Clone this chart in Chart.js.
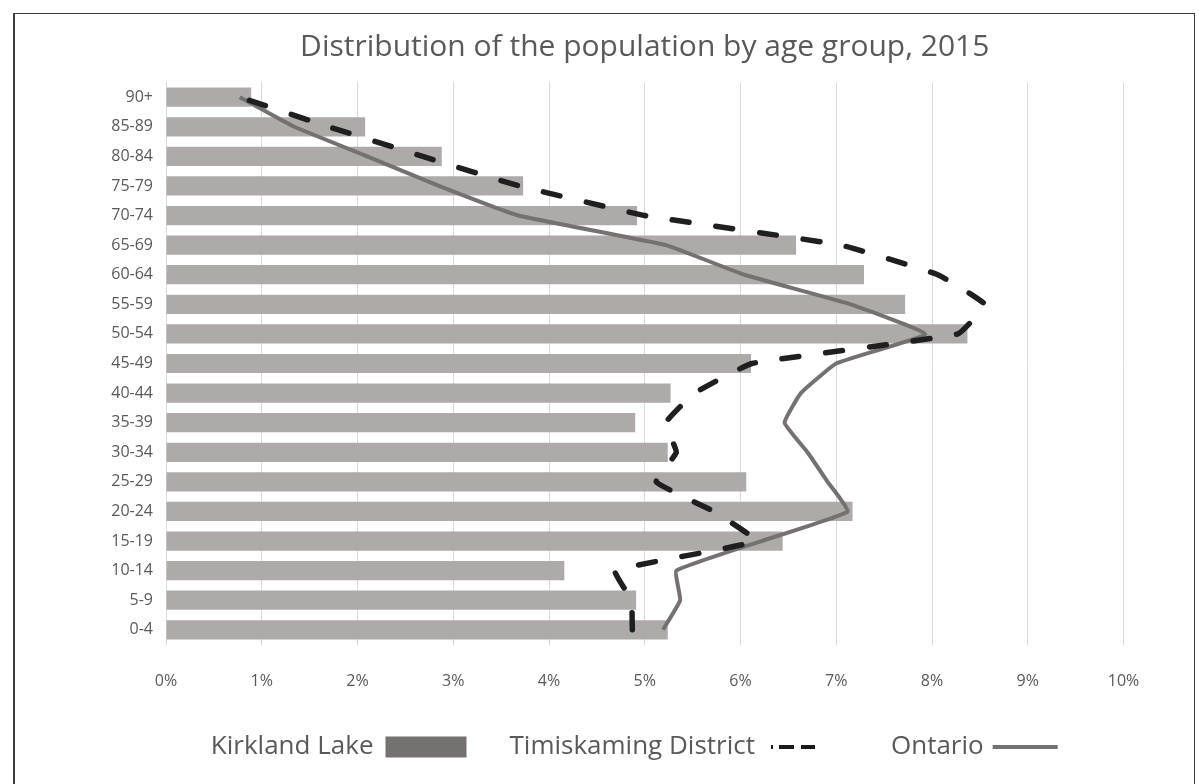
<!DOCTYPE html>
<html>
<head>
<meta charset="UTF-8">
<title>Distribution of the population by age group, 2015</title>
<script src="https://cdn.jsdelivr.net/npm/chart.js@4.4.1/dist/chart.umd.min.js"></script>
<style>
  html, body { margin: 0; padding: 0; background: #ffffff; }
  #wrap { position: relative; width: 1199px; height: 784px; overflow: hidden; }
  #frame {
    position: absolute; left: 13px; top: 13px; width: 1182px; height: 820px;
    box-sizing: border-box; border: 1px solid #3c3c3c; border-left-width: 2px;
  }
  canvas { position: absolute; left: 0; top: 0; }
</style>
</head>
<body>
<div id="wrap">
  <div id="frame"></div>
  <canvas id="chart" width="1199" height="784"></canvas>
</div>
<script>
// Age groups, bottom to top
const ageGroups = ['0-4', '5-9', '10-14', '15-19', '20-24', '25-29', '30-34', '35-39', '40-44',
  '45-49', '50-54', '55-59', '60-64', '65-69', '70-74', '75-79', '80-84', '85-89', '90+'];

// Share of population (%)
const kirklandLake = [5.24, 4.91, 4.16, 6.44, 7.17, 6.06, 5.24, 4.90, 5.27,
  6.11, 8.37, 7.72, 7.29, 6.58, 4.92, 3.73, 2.88, 2.08, 0.89];
const timiskaming = [4.87, 4.86, 4.69, 6.16, 5.72, 5.12, 5.33, 5.22, 5.52,
  6.12, 8.27, 8.55, 8.06, 7.05, 5.00, 3.69, 2.68, 1.70, 0.77];
const ontario = [5.19, 5.37, 5.33, 6.22, 7.12, 6.91, 6.70, 6.46, 6.63,
  7.00, 7.93, 7.15, 6.04, 5.22, 3.68, 2.85, 2.10, 1.34, 0.77];

const xTicks = [0, 1, 2, 3, 4, 5, 6, 7, 8, 9, 10];

const TEXT = '#595959';
const FONT = "'Open Sans', sans-serif";

// Legend symbols sit to the right of the text (Excel style).
// Image is wider than the legend box (82px); x0 = where the symbol starts in it.
function swatch(x0, draw) {
  const c = document.createElement('canvas');
  c.width = 200;
  c.height = 28;
  const g = c.getContext('2d');
  g.translate(x0, 14);
  draw(g);
  return c;
}
const swatches = [
  swatch(58, g => { g.fillStyle = '#757171'; g.fillRect(0, -10.5, 81, 21); }),
  swatch(62, g => {
    g.fillStyle = '#1a1a1a';
    g.fillRect(0, -2, 2, 4);
    g.fillRect(8, -2, 15, 4);
    g.fillRect(30, -2, 14, 4);
  }),
  swatch(55, g => { g.fillStyle = '#767171'; g.fillRect(0, -2, 65, 4); })
];

const ctx = document.getElementById('chart').getContext('2d');
new Chart(ctx, {
  data: {
    labels: ageGroups,
    datasets: [
      {
        type: 'bar',
        label: 'Kirkland Lake',
        data: kirklandLake,
        backgroundColor: '#aeaaaa',
        borderWidth: 0,
        barPercentage: 0.65,
        categoryPercentage: 1,
        order: 3
      },
      {
        type: 'line',
        label: 'Timiskaming District',
        data: timiskaming,
        borderColor: '#1f1f1f',
        borderWidth: 5.5,
        borderDash: [17, 27],
        borderCapStyle: 'round',
        pointRadius: 0,
        tension: 0.1,
        fill: false,
        order: 1
      },
      {
        type: 'line',
        label: 'Ontario',
        data: ontario,
        borderColor: '#767171',
        borderWidth: 4,
        pointRadius: 0,
        tension: 0.1,
        fill: false,
        order: 2
      }
    ]
  },
  options: {
    indexAxis: 'y',
    responsive: false,
    animation: false,
    layout: { padding: { top: 10, right: 75.5, bottom: 14, left: 0 } },
    scales: {
      x: {
        min: 0,
        max: 10,
        afterBuildTicks: scale => { scale.ticks = xTicks.map(v => ({ value: v })); },
        afterFit: scale => { scale.height = 48.4; },
        grid: { color: '#d9d9d9', lineWidth: 1, drawTicks: false },
        border: { display: false },
        ticks: {
          padding: 27,
          color: TEXT,
          font: { family: FONT, size: 16 },
          callback: v => v + '%'
        }
      },
      y: {
        reverse: true,
        afterFit: scale => { scale.width = 166; },
        grid: { display: false, drawTicks: false },
        border: { display: true, color: '#d9d9d9', width: 1 },
        ticks: {
          padding: 13,
          color: TEXT,
          font: { family: FONT, size: 16 }
        }
      }
    },
    plugins: {
      tooltip: { enabled: false },
      title: {
        display: true,
        fullSize: false,
        text: 'Distribution of the population by age group, 2015',
        color: TEXT,
        font: { family: FONT, size: 30, weight: 'normal' },
        padding: { top: 19, bottom: 17.4 }
      },
      legend: {
        position: 'bottom',
        fullSize: false,
        rtl: true,
        textDirection: 'ltr',
        labels: {
          usePointStyle: true,
          pointStyleWidth: 82,
          padding: 41,
          color: TEXT,
          font: { family: FONT, size: 26 },
          generateLabels: chart => chart.data.datasets.map((ds, i) => ({
            text: ds.label,
            fillStyle: 'transparent',
            strokeStyle: 'transparent',
            lineWidth: 0,
            pointStyle: swatches[i],
            fontColor: TEXT,
            hidden: !chart.isDatasetVisible(i),
            datasetIndex: i
          })).reverse()
        }
      }
    }
  }
});
</script>
</body>
</html>
